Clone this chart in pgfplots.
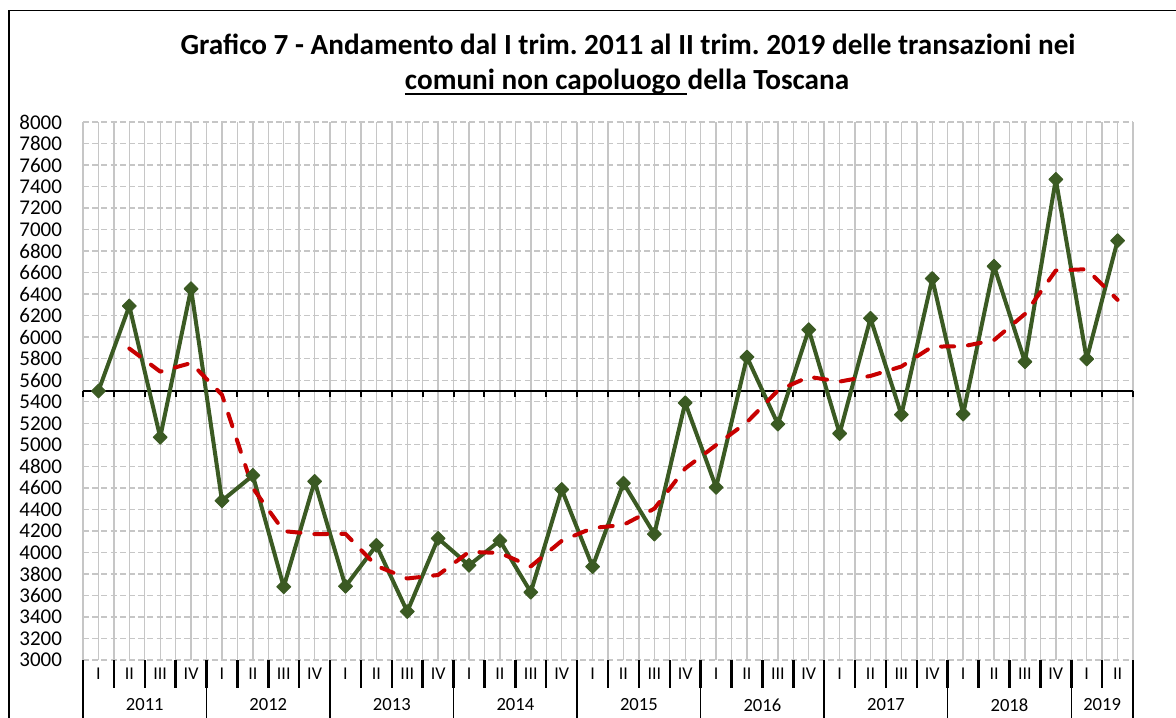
\documentclass[border=0pt]{standalone}
\usepackage{pgfplots}
\pgfplotsset{compat=1.18}
\usepackage{fontspec}
\setmainfont{Carlito}
\frenchspacing
\definecolor{olivegr}{HTML}{3B5A23}
\definecolor{trendred}{HTML}{C80000}
\definecolor{gridgr}{HTML}{C6C6C6}
\newcommand\ulx[1]{\setbox0\hbox{#1}\rlap{\rule[-2.7pt]{\wd0}{0.85pt}}\box0}
\begin{document}
\begin{tikzpicture}
\useasboundingbox (0,0) rectangle (588pt,358.5pt);
\draw[line width=0.6pt] (4.5pt,-2pt) -- (4.5pt,353.2pt) -- (590pt,353.2pt);
\node[anchor=base, font=\fontsize{14.6}{16}\selectfont\bfseries, inner sep=0pt] at (314pt,331.4pt) {Grafico 7 - Andamento dal I trim. 2011 al II trim. 2019 delle transazioni nei};
\node[anchor=base, font=\fontsize{14.6}{16}\selectfont\bfseries, inner sep=0pt] at (313.5pt,313.9pt) {\ulx{comuni non capoluogo\ }della Toscana};
\begin{axis}[
  at={(41.5pt,28.5pt)}, anchor=south west,
  scale only axis, width=525pt, height=269pt,
  xmin=-0.5, xmax=33.5, ymin=3000, ymax=8000,
  axis line style={draw=none},
  ytick={3000,3200,...,8000},
  xtick={0,...,33},
  xticklabels={I,II,III,IV,I,II,III,IV,I,II,III,IV,I,II,III,IV,I,II,III,IV,I,II,III,IV,I,II,III,IV,I,II,III,IV,I,II},
  minor xtick={-0.5,0.5,...,33.5},
  xmajorgrids, xminorgrids, ymajorgrids,
  major grid style={gridgr, line width=0.7pt},
  minor grid style={gridgr, line width=0.7pt},
  y grid style={dash pattern=on 3pt off 1.6pt},
  major tick length=0pt, minor tick length=0pt,
  /pgf/number format/assume math mode=true,
  /pgf/number format/1000 sep={},
  yticklabel style={font=\fontsize{10.5}{12}\selectfont, xshift=-7pt},
  xticklabel style={font=\fontsize{9}{10}\selectfont, anchor=center, yshift=-7pt},
  extra x ticks={1.5,5.5,9.5,13.5,17.5,21.5,25.5,29.5,32.5},
  extra x tick labels={2011,2012,2013,2014,2015,2016,2017,2018,2019},
  extra x tick style={grid=none, xticklabel style={font=\fontsize{9.3}{11}\selectfont, yshift=-15.5pt}},
  clip=false,
]
\draw[line width=1.3pt] (axis cs:-0.5,5500) -- (axis cs:33.5,5500);
\pgfplotsinvokeforeach{-0.5,0.5,...,33.5}{\draw[line width=1pt] (axis cs:#1,5500) -- ++(0pt,-3pt);}
\pgfplotsinvokeforeach{-0.5,3.5,7.5,11.5,15.5,19.5,23.5,27.5,31.5,33.5}{\draw[line width=0.7pt] (axis cs:#1,3000) -- ++(0pt,-29pt);}
\pgfplotsinvokeforeach{-0.5,0.5,...,33.5}{\draw[line width=1.25pt] (axis cs:#1,3000) -- ++(0pt,-14pt);}
\addplot[olivegr, line width=2pt, line join=round, mark=square*, mark size=2.45pt, mark options={rotate=45, solid, fill=olivegr, line width=0.5pt}] table[row sep=\\] {
x y\\
0 5500\\ 1 6290\\ 2 5070\\ 3 6450\\ 4 4480\\ 5 4715\\ 6 3680\\ 7 4660\\
8 3685\\ 9 4065\\ 10 3450\\ 11 4130\\ 12 3880\\ 13 4110\\ 14 3630\\ 15 4585\\
16 3868\\ 17 4643\\ 18 4170\\ 19 5390\\ 20 4605\\ 21 5815\\ 22 5193\\ 23 6070\\
24 5105\\ 25 6175\\ 26 5280\\ 27 6545\\ 28 5286\\ 29 6660\\ 30 5772\\ 31 7467\\
32 5797\\ 33 6897\\
};
\addplot[trendred, line width=2pt, line cap=round, line join=round, dash pattern=on 6.5pt off 7pt] table[row sep=\\] {
x y\\
1 5895\\ 2 5680\\ 3 5760\\ 4 5465\\ 5 4597.5\\ 6 4197.5\\ 7 4170\\ 8 4172.5\\
9 3875\\ 10 3757.5\\ 11 3790\\ 12 4005\\ 13 3995\\ 14 3870\\ 15 4107.5\\ 16 4226.5\\
17 4255.5\\ 18 4406.5\\ 19 4780\\ 20 4997.5\\ 21 5210\\ 22 5504\\ 23 5631.5\\ 24 5587.5\\
25 5640\\ 26 5727.5\\ 27 5912.5\\ 28 5915.5\\ 29 5973\\ 30 6216\\ 31 6619.5\\ 32 6632\\
33 6347\\
};
\end{axis}
\end{tikzpicture}
\end{document}
